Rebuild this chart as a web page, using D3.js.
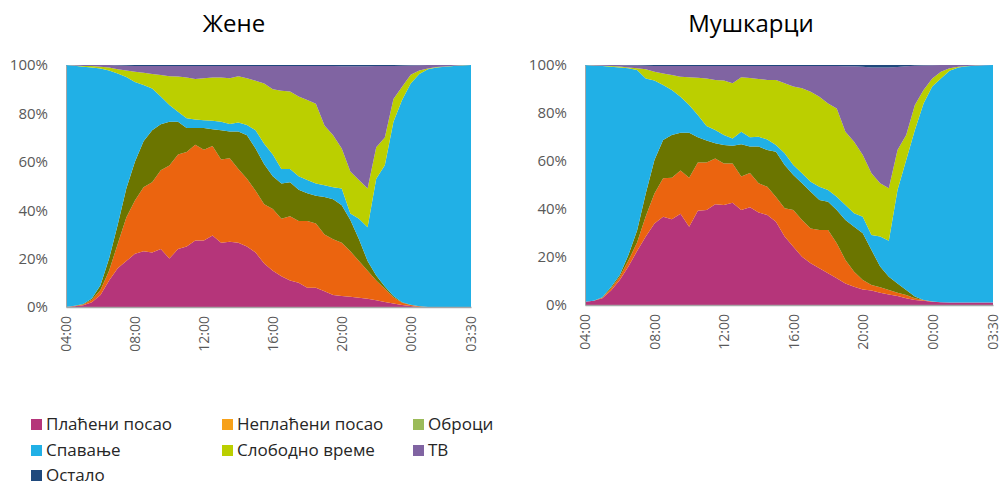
<!DOCTYPE html>
<html>
<head>
<meta charset="utf-8">
<script src="https://cdn.jsdelivr.net/npm/d3@7"></script>
<style>
  body { margin: 0; background: #fff; }
  text { font-family: "Open Sans", sans-serif; }
</style>
</head>
<body>
<div id="chart"></div>
<script>
/** DATA: share of people in each activity, half-hour slots from 04:00 */
const times = ["04:00","04:30","05:00","05:30","06:00","06:30","07:00","07:30",
  "08:00","08:30","09:00","09:30","10:00","10:30","11:00","11:30",
  "12:00","12:30","13:00","13:30","14:00","14:30","15:00","15:30",
  "16:00","16:30","17:00","17:30","18:00","18:30","19:00","19:30",
  "20:00","20:30","21:00","21:30","22:00","22:30","23:00","23:30",
  "00:00","00:30","01:00","01:30","02:00","02:30","03:00","03:30"];
const tickTimes = ["04:00","08:00","12:00","16:00","20:00","00:00","03:30"];
const yTicks = [0, 0.2, 0.4, 0.6, 0.8, 1];

const activities = ["Плаћени посао", "Неплаћени посао", "Оброци", "Спавање", "Слободно време", "ТВ", "Остало"];
const areaColors = ["#B5357A", "#EB640F", "#6B7500", "#21B0E6", "#BBCF00", "#8064A2", "#1F497D"];
const legendColors = ["#B5357A", "#F7A11A", "#9BBB59", "#21B0E6", "#BBCF00", "#8064A2", "#1F497D"];

// Жене
const womenPaid   = [0,0.3,0.7,2,5,11,16,19,22,23,22.5,24,20,24,25,27.5,27.5,29.5,26.5,27,26.5,25,22.5,18,15,12.7,11,10,8,8,6.5,5,4.5,4.2,3.8,3.4,2.8,2.1,1.4,0.8,0.4,0,0,0,0,0,0,0];
const womenUnpaid = [0,0.1,0.3,1,2,4,10,18,22,26.5,29,32.5,38.5,39,39,39.5,37.5,37,34.5,34.5,30.5,28,25.5,24.5,25.5,23.8,26.5,25.5,27.5,26.5,23.5,23,22,18.8,15.2,11.6,8.2,5.4,2.6,1,0.4,0.3,0,0,0,0,0,0];
const womenMeals  = [0,0.1,0.2,0.5,2,5,8,12,16,19,21.5,19,18,13.5,10,7,9,7,12,11,15.5,18,17.5,16.5,13.5,14.5,14,13,11.5,11.5,15.5,16.5,15.5,13,9,4,2,1,0.5,0.2,0.1,0,0,0,0,0,0,0];
const womenSleep  = [100,99.2,98.1,95.5,89.6,77.7,62.5,46,33,23.2,17.3,11.5,7,4.2,4,3.5,3.2,3.5,3.6,3.1,3.7,4.2,7.5,8.5,9,6,5.5,5.5,5.5,5,4.8,5,7,2.6,8.5,14,40,50.1,72.1,83.5,91.5,96,98.2,99,99.3,99.6,99.8,100];
const womenFree   = [0,0.1,0.3,0.6,0.7,1.3,1.7,2.7,4.2,5.1,6,8.9,11.9,14.5,16.8,16.7,17.3,17.8,18.2,18.9,19.2,19.3,20.5,24.9,27,32.4,32,33,33,33,24.7,21.5,16.5,17.4,16,16,13,11.4,9.4,5.5,3.6,1.4,0.4,0.2,0.1,0.1,0.1,0];
const womenTV     = [0,0.2,0.4,0.4,0.7,1,1.6,2,2.4,2.8,3.3,3.7,4.2,4.4,4.8,5.4,5.1,4.8,4.8,5.1,4.2,5.1,6.1,7.2,9.6,10.2,10.6,12.6,14.1,15.6,24.6,28.6,34,43.5,47,50.5,33.6,29.6,13.6,8.7,3.8,2.2,1.4,0.8,0.6,0.3,0.1,0];
const womenOther  = [0,0,0,0,0,0,0.2,0.3,0.4,0.4,0.4,0.4,0.4,0.4,0.4,0.4,0.4,0.4,0.4,0.4,0.4,0.4,0.4,0.4,0.4,0.4,0.4,0.4,0.4,0.4,0.4,0.4,0.5,0.5,0.5,0.5,0.4,0.4,0.4,0.3,0.2,0.1,0,0,0,0,0,0];

// Мушкарци
const menPaid   = [1.4,1.8,2.8,6,10.4,16,22.5,28.5,34,36.8,35.7,38,32.6,39.3,39.6,42,41.7,42.6,39.6,40.7,38.5,37.5,34.7,28.5,24.3,20.1,17.4,15.3,13.2,11.1,9,7.6,6.5,6,5.1,4.4,3.8,2.8,2.1,1.8,1.4,1.1,1,1,1,1,1,1];
const menUnpaid = [0,0,0.2,1,1.4,2.5,3.5,8.5,12.5,16,17.3,18,20.4,20.1,19.8,19,17.3,16.4,13.9,14.3,12.2,11.8,10.3,11.8,15.3,15.3,14.5,15.9,18,14.6,9.8,6.3,3.9,2.3,2.3,1.9,1.3,1.4,0.7,0.3,0.1,0,0,0,0,0,0,0];
const menMeals  = [0,0,0.2,0.5,0.7,2.3,5,9.5,13.9,16,17.8,15.8,18.8,10.5,9.1,6.4,7.7,7.4,13.5,11,15.3,15.3,18.9,18,14.6,15.3,15.3,12.6,11.8,13.9,16.6,18.7,19.5,14.6,8.6,5.5,3.9,2.1,0.7,0,0,0,0,0,0,0,0,0];
const menSleep  = [98.6,97.9,96.4,91.8,86.5,77.8,66.9,47.9,33.1,22.9,18.8,15,11.5,9.3,6.1,5.5,4.1,3,5.2,3.9,4.1,4.4,2.8,4.9,4.1,4.2,4.2,5.5,4.9,5.5,6.3,5.6,6.9,6.3,12.5,15,38.9,54.1,69.4,81.9,89.5,93.3,96.6,98,98.5,98.7,98.9,99];
const menFree   = [0,0.1,0.1,0.3,0.4,0.4,0.7,3.8,3.7,4.8,6.2,8.3,11.6,15.5,19.8,20.9,22.7,23,22.7,24.7,24.1,24.8,27.1,29.2,32.7,35.4,37.5,37.5,36.1,36.8,30.5,29.8,25.7,25.7,22.2,21.8,16.7,10.4,10.4,5.6,3.4,2.8,1,0.3,0.1,0.1,0,0];
const menTV     = [0,0.2,0.3,0.4,0.6,0.8,1.2,1.5,2.4,3.1,3.8,4.5,4.7,4.9,5.2,5.8,6.1,7.2,4.7,5,5.4,5.8,5.8,7.2,8.6,9.3,10.7,12.8,15.6,17.7,27.3,31.5,36.8,44.1,48.3,50.4,34.6,28.7,16.4,10.2,5.5,2.8,1.4,0.7,0.4,0.2,0.1,0];
const menOther  = [0,0,0,0,0,0.2,0.2,0.3,0.4,0.4,0.4,0.4,0.4,0.4,0.4,0.4,0.4,0.4,0.4,0.4,0.4,0.4,0.4,0.4,0.4,0.4,0.4,0.4,0.4,0.4,0.5,0.5,0.7,1,1,1,0.8,0.5,0.3,0.2,0.1,0,0,0,0,0,0,0];

/** LAYOUT */
const width = 1005, height = 486;
const panels = [
  { title: "Жене", titleX: 234, x0: 66, x1: 471, y0: 307, y1: 65,
    series: [womenPaid, womenUnpaid, womenMeals, womenSleep, womenFree, womenTV, womenOther] },
  { title: "Мушкарци", titleX: 751, x0: 585, x1: 993, y0: 305, y1: 65,
    series: [menPaid, menUnpaid, menMeals, menSleep, menFree, menTV, menOther] }
];

const svg = d3.select("#chart").append("svg")
  .attr("width", width)
  .attr("height", height);

const stack = d3.stack().keys(activities).offset(d3.stackOffsetExpand);

panels.forEach(p => {
  // build rows of the table from the named arrays
  const rows = times.map((t, i) => {
    const row = { time: t };
    activities.forEach((a, k) => row[a] = p.series[k][i]);
    return row;
  });

  const x = d3.scalePoint(times, [p.x0, p.x1]);
  const y = d3.scaleLinear([0, 1], [p.y0, p.y1]);

  const area = d3.area()
    .x(d => x(d.data.time))
    .y0(d => y(d[0]))
    .y1(d => y(d[1]));

  const g = svg.append("g");

  g.selectAll("path.layer")
    .data(stack(rows))
    .join("path")
    .attr("class", "layer")
    .attr("fill", (d, i) => areaColors[i])
    .attr("d", area);

  // axes
  const xAxis = g.append("g")
    .attr("transform", `translate(0,${p.y0})`)
    .call(d3.axisBottom(x).tickValues(tickTimes).tickSize(0).tickPadding(0));
  xAxis.select(".domain").attr("stroke", "#A6A6A6").attr("stroke-width", 1.5);
  xAxis.selectAll("text")
    .attr("transform", "rotate(-90)")
    .attr("x", -9)
    .attr("y", 0)
    .attr("dy", "0.35em")
    .style("text-anchor", "end")
    .style("font-size", "14px")
    .attr("fill", "#595959");

  const yAxis = g.append("g")
    .attr("transform", `translate(${p.x0},0)`)
    .call(d3.axisLeft(y).tickValues(yTicks).tickFormat(d3.format(".0%")).tickSize(0).tickPadding(18));
  yAxis.select(".domain").attr("stroke", "#A6A6A6").attr("stroke-width", 1);
  yAxis.selectAll("text")
    .style("font-size", "15px")
    .attr("fill", "#595959");

  g.append("text")
    .attr("x", p.titleX)
    .attr("y", 32)
    .attr("text-anchor", "middle")
    .style("font-size", "24px")
    .attr("fill", "#000")
    .text(p.title);
});

// legend
const legendCols = [31, 222, 413], legendRows = [419, 445, 470];
const legend = svg.append("g")
  .selectAll("g")
  .data(activities)
  .join("g")
  .attr("transform", (d, i) => `translate(${legendCols[i % 3]},${legendRows[Math.floor(i / 3)]})`);
legend.append("rect")
  .attr("width", 11)
  .attr("height", 11)
  .attr("fill", (d, i) => legendColors[i]);
legend.append("text")
  .attr("x", 15)
  .attr("y", 5.5)
  .attr("dy", "0.35em")
  .style("font-size", "17px")
  .attr("fill", "#262626")
  .text(d => d);
</script>
</body>
</html>
